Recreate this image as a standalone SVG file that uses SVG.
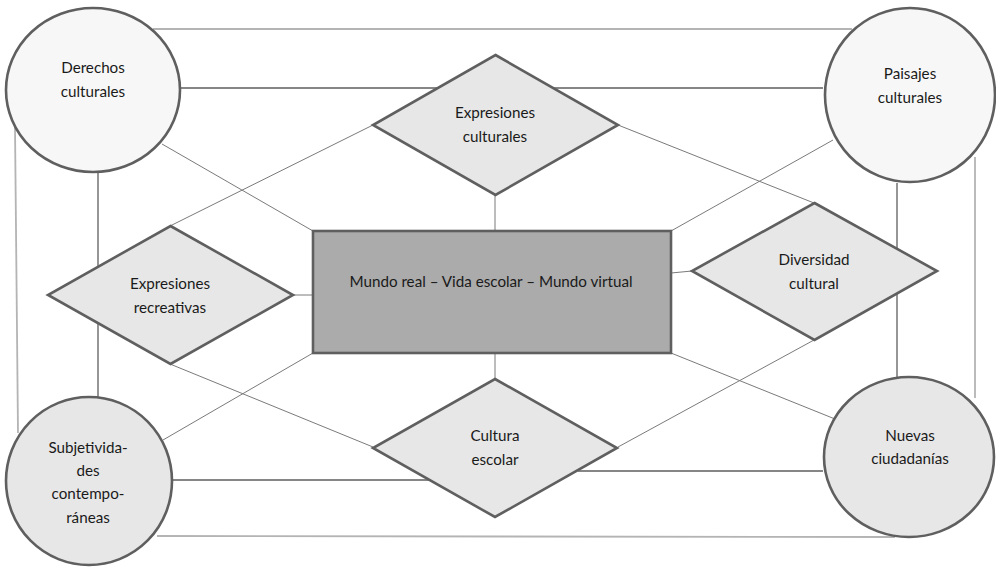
<svg xmlns="http://www.w3.org/2000/svg" width="996" height="567" viewBox="0 0 996 567">
<style>
.bg{fill:#ffffff}
.c{stroke:#7a7a7a;stroke-width:1;fill:none}
.d{stroke:#5e5e5e;stroke-width:1.3;fill:none}
.l{stroke:#b4b4b4;stroke-width:1.8;fill:none}
.node{stroke:#5f5f5f;stroke-width:2.6}
.w{fill:#f7f7f7}
.g{fill:#e7e7e7}
.r{fill:#ababab}
text{font-family:Lato,"Open Sans","Liberation Sans",sans-serif;font-size:15.2px;fill:#1a1a1a;text-anchor:middle}
</style>
<rect class="bg" width="996" height="567"/>
<g id="connectors">
<line class="l" x1="153" y1="29" x2="852" y2="29"/>
<line class="d" x1="180" y1="88" x2="823" y2="88"/>
<line class="l" x1="15" y1="127" x2="18" y2="433"/>
<line class="l" x1="975" y1="157" x2="975" y2="398"/>
<line class="d" x1="98" y1="172" x2="98" y2="398"/>
<line class="d" x1="897" y1="183" x2="897" y2="378"/>
<line class="l" x1="157" y1="536" x2="895" y2="537"/>
<line class="d" x1="172" y1="480" x2="430" y2="480"/>
<line class="d" x1="578" y1="471" x2="823" y2="471"/>
<line class="c" x1="162" y1="144" x2="313" y2="231"/>
<line class="c" x1="833" y1="140" x2="671" y2="231"/>
<line class="c" x1="163" y1="440" x2="313" y2="353"/>
<line class="c" x1="671" y1="353" x2="835" y2="419"/>
<line class="c" x1="170" y1="226" x2="373" y2="125"/>
<line class="c" x1="618" y1="125" x2="814" y2="203"/>
<line class="c" x1="170" y1="364" x2="373" y2="447"/>
<line class="c" x1="814" y1="340" x2="618" y2="447"/>
<line class="c" x1="495" y1="195" x2="495" y2="231"/>
<line class="c" x1="495" y1="353" x2="495" y2="379"/>
<line class="c" x1="293" y1="295" x2="313" y2="295"/>
<line class="c" x1="671" y1="273" x2="692" y2="271"/>
</g>
<g id="derechos-culturales">
<ellipse class="node w" cx="93" cy="90" rx="87" ry="82"/>
<text x="93" y="73">Derechos</text>
<text x="93" y="97">culturales</text>
</g>
<g id="paisajes-culturales">
<ellipse class="node w" cx="910" cy="95" rx="85" ry="87"/>
<text x="910" y="79">Paisajes</text>
<text x="910" y="103">culturales</text>
</g>
<g id="subjetividades">
<ellipse class="node g" cx="89" cy="481" rx="83" ry="84"/>
<text x="88" y="453">Subjetivida-</text>
<text x="88" y="476">des</text>
<text x="88" y="499">contempo-</text>
<text x="88" y="523">ráneas</text>
</g>
<g id="nuevas-ciudadanias">
<ellipse class="node g" cx="909" cy="457" rx="85" ry="80"/>
<text x="910" y="441">Nuevas</text>
<text x="910" y="464">ciudadanías</text>
</g>
<g id="expresiones-culturales">
<polygon class="node g" points="495.5,55 618,125 495.5,195 373,125"/>
<text x="495" y="118">Expresiones</text>
<text x="495" y="142">culturales</text>
</g>
<g id="expresiones-recreativas">
<polygon class="node g" points="170.5,226 293,295 170.5,364 48,295"/>
<text x="170" y="289">Expresiones</text>
<text x="170" y="313">recreativas</text>
</g>
<g id="diversidad-cultural">
<polygon class="node g" points="814.5,203 937,271 814.5,340 692,271"/>
<text x="814" y="265">Diversidad</text>
<text x="814" y="289">cultural</text>
</g>
<g id="cultura-escolar">
<polygon class="node g" points="495,379 617,448 495,517 373,448"/>
<text x="495" y="441">Cultura</text>
<text x="495" y="465">escolar</text>
</g>
<g id="mundo">
<rect class="node r" x="313" y="231" width="358" height="122"/>
<text x="491" y="287">Mundo real – Vida escolar – Mundo virtual</text>
</g>
</svg>
